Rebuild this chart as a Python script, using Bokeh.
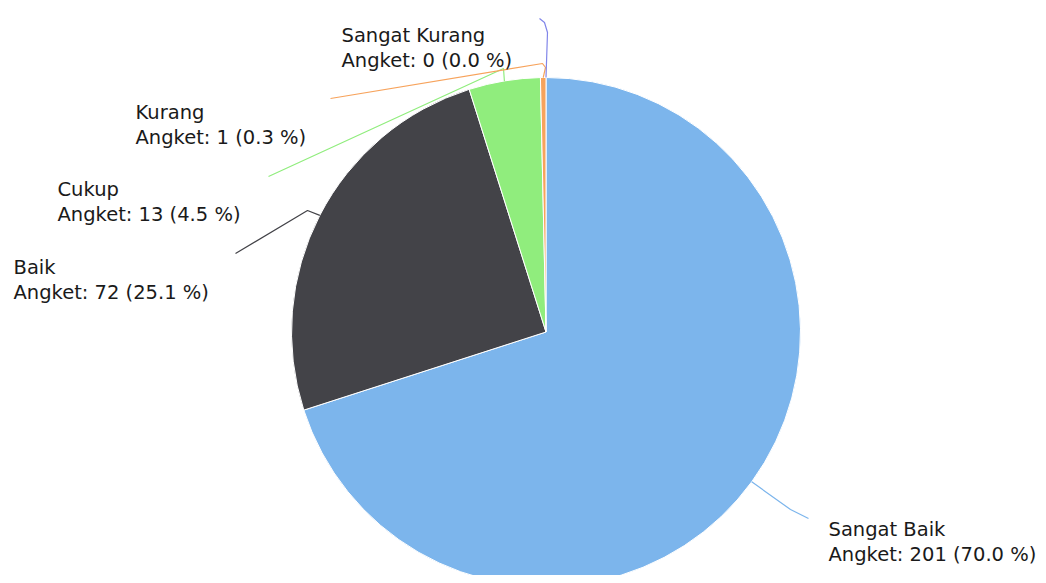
import math
from bokeh.plotting import figure
from bokeh.models import Range1d, ColumnDataSource
from bokeh.embed import file_html
from bokeh.resources import INLINE
from bokeh.core.properties import value

# ---- data ----
categories = ["Sangat Baik", "Baik", "Cukup", "Kurang", "Sangat Kurang"]
counts = [201, 72, 13, 1, 0]
series_name = "Angket"

# ---- style ----
colors = ["#7cb5ec", "#434348", "#90ed7d", "#f7a35c", "#8085e9"]
FONT = "DejaVu Sans"
FSIZE = "19.5px"
TEXT_COLOR = "#1a1a1a"

# ---- layout (reference pixel coordinates) ----
W, H = 1038, 575
CX, CY, R = 545.5, 331.5, 254.5
label_pos = [(828, 529), (13, 267), (57, 189), (135, 112), (341, 35)]
LINE_GAP = 25
connector_bends = [
    [(790, 509), (808, 518)],
    [(307, 210), (235, 253)],
    [(503, 68), (268, 176)],
    [(545, 67), (542, 63), (330, 98)],
    [(547, 32), (544, 22), (539, 18)],
]

p = figure(width=W, height=H, output_backend="svg", toolbar_location=None,
           x_range=Range1d(0, W), y_range=Range1d(-H, 0),
           x_axis_type=None, y_axis_type=None, min_border=0,
           background_fill_color="white", border_fill_color="white")
p.grid.visible = False
p.outline_line_color = None

total = sum(counts)
cum = 0.0
starts, ends, wcols = [], [], []
mids = []
for c, col in zip(counts, colors):
    t0 = cum / total * 2 * math.pi
    t1 = (cum + c) / total * 2 * math.pi
    mids.append((t0 + t1) / 2)
    if c > 0:
        starts.append(math.pi / 2 - t0)
        ends.append(math.pi / 2 - t1)
        wcols.append(col)
    cum += c

src = ColumnDataSource(dict(x=[CX] * len(starts), y=[-CY] * len(starts),
                            s=starts, e=ends, c=wcols))
p.wedge(x="x", y="y", radius=R, start_angle="s", end_angle="e",
        direction="clock", fill_color="c", line_color="white", line_width=1,
        source=src)

# connectors
xs, ys = [], []
for m, bends in zip(mids, connector_bends):
    sx = CX + R * math.sin(m)
    sy = CY - R * math.cos(m)
    pts = [(sx, sy)] + bends
    xs.append([q[0] for q in pts])
    ys.append([-q[1] for q in pts])
p.multi_line(xs=xs, ys=ys, line_color=colors, line_width=1.2)

# labels
lx = [q[0] for q in label_pos]
ly1 = [-q[1] for q in label_pos]
ly2 = [-(q[1] + LINE_GAP) for q in label_pos]
line2 = ["%s: %d (%.1f %%)" % (series_name, c, c / total * 100) for c in counts]
p.text(x=lx, y=ly1, text=categories, text_font=value(FONT),
       text_font_size=FSIZE, text_baseline="alphabetic", text_color=TEXT_COLOR)
p.text(x=lx, y=ly2, text=line2, text_font=value(FONT),
       text_font_size=FSIZE, text_baseline="alphabetic", text_color=TEXT_COLOR)

open("out.html", "w").write(file_html(p, INLINE))
